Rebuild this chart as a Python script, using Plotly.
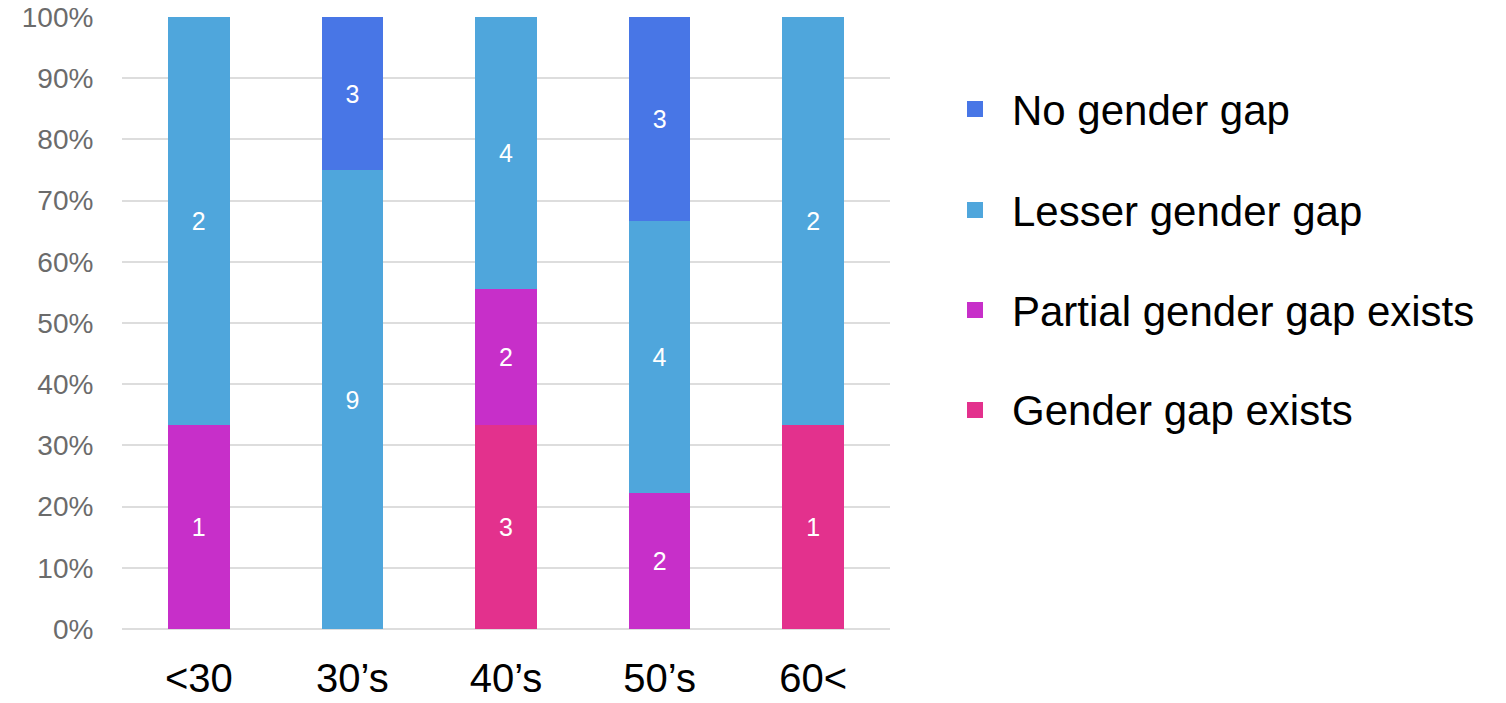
import plotly.graph_objects as go

# Age groups and number of respondents per answer
age_groups = ["<30", "30’s", "40’s", "50’s", "60<"]
gap_exists = [0, 0, 3, 0, 1]
partial_gap = [1, 0, 2, 2, 0]
lesser_gap = [2, 9, 4, 4, 2]
no_gap = [0, 3, 0, 3, 0]

series_names = ["Gender gap exists", "Partial gender gap exists", "Lesser gender gap", "No gender gap"]
series_values = [gap_exists, partial_gap, lesser_gap, no_gap]
series_colors = ["#E3318D", "#C72FC9", "#4FA6DC", "#4876E6"]

y_ticks = list(range(0, 101, 10))

FONT = "Liberation Sans, Arial, sans-serif"

# plot area in pixels
PLOT_L, PLOT_R, PLOT_T, PLOT_B = 122, 890, 17, 629
PW, PH = PLOT_R - PLOT_L, PLOT_B - PLOT_T

fig = go.Figure()
for name, vals, color in zip(series_names, series_values, series_colors):
    fig.add_trace(go.Bar(
        x=age_groups,
        y=vals,
        name=name,
        marker=dict(color=color, line=dict(width=0)),
        text=[str(v) if v else "" for v in vals],
        textposition="inside",
        insidetextanchor="middle",
        textangle=0,
        textfont=dict(family=FONT, size=25, color="white"),
        showlegend=False,
        hoverinfo="x+y+name",
    ))

# Legend drawn as swatches + labels, top entry first
legend_y = [109, 210, 310, 410]
for (name, color), yc in zip(reversed(list(zip(series_names, series_colors))), legend_y):
    fig.add_shape(type="rect", xref="paper", yref="paper",
                  x0=(967 - PLOT_L) / PW, x1=(983 - PLOT_L) / PW,
                  y0=(PLOT_B - yc - 8) / PH, y1=(PLOT_B - yc + 8) / PH,
                  fillcolor=color, line=dict(width=0))
    fig.add_annotation(xref="paper", yref="paper",
                       x=(1010 - PLOT_L) / PW, y=(PLOT_B - yc - 1) / PH,
                       text=name, showarrow=False, xanchor="left", yanchor="middle",
                       font=dict(family=FONT, size=42, color="black"))

fig.update_layout(
    barmode="stack",
    barnorm="percent",
    bargap=0.6,
    width=1506,
    height=703,
    margin=dict(l=PLOT_L, r=1506 - PLOT_R, t=PLOT_T, b=703 - PLOT_B, autoexpand=False),
    plot_bgcolor="white",
    paper_bgcolor="white",
    showlegend=False,
)
fig.update_xaxes(
    automargin=False,
    showgrid=False,
    showline=False,
    ticks="outside",
    ticklen=14,
    tickcolor="rgba(0,0,0,0)",
    tickfont=dict(family=FONT, size=40, color="black"),
)
fig.update_yaxes(
    automargin=False,
    range=[0, 100],
    tickvals=y_ticks,
    ticktext=[f"{t}%" for t in y_ticks],
    showgrid=True,
    gridcolor="#DDDDDD",
    gridwidth=1.5,
    zeroline=True,
    zerolinecolor="#DDDDDD",
    zerolinewidth=1.5,
    showline=False,
    ticks="outside",
    ticklen=22,
    tickcolor="rgba(0,0,0,0)",
    tickfont=dict(family=FONT, size=28, color="#6B6B6B"),
)

fig.write_html("out.html")
